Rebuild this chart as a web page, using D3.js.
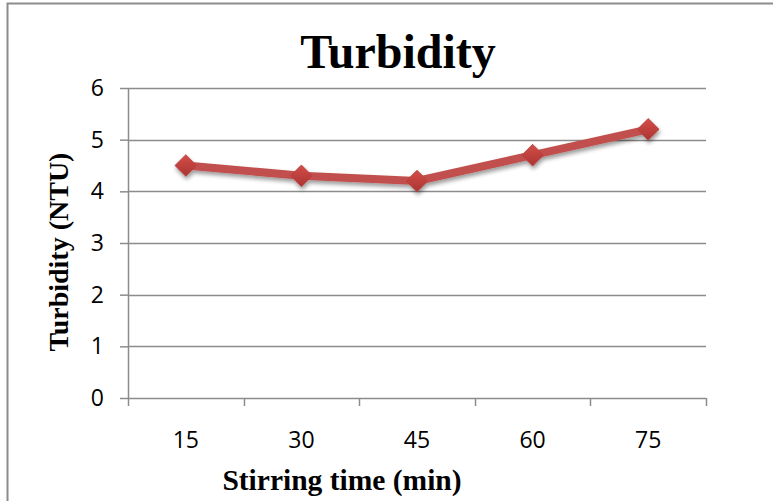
<!DOCTYPE html>
<html>
<head>
<meta charset="utf-8">
<script src="https://cdn.jsdelivr.net/npm/d3@7/dist/d3.min.js"></script>
<style>
  html, body { margin: 0; padding: 0; background: #fff; }
  svg { display: block; }
</style>
</head>
<body>
<svg id="chart" width="773" height="501"></svg>
<script>
// Turbidity readings at each stirring time
const stirringTimes = ["15", "30", "45", "60", "75"];
const turbidityNTU = [4.5, 4.3, 4.2, 4.7, 5.2];
const yTicks = [0, 1, 2, 3, 4, 5, 6];

const svg = d3.select("#chart");
const W = 773, H = 501;
const margin = { left: 128, top: 88, right: 67, bottom: 103 };
const plotW = W - margin.left - margin.right;
const plotH = H - margin.top - margin.bottom;

// Frame around the chart
svg.append("rect")
  .attr("x", 7.5).attr("y", 3.5)
  .attr("width", W + 10).attr("height", H + 10)
  .attr("fill", "#fff")
  .attr("stroke", "#8c8c8c").attr("stroke-width", 2);

const defs = svg.append("defs");
const shadow = defs.append("filter").attr("id", "shadow")
  .attr("x", "-50%").attr("y", "-50%").attr("width", "200%").attr("height", "200%");
shadow.append("feGaussianBlur").attr("in", "SourceAlpha").attr("stdDeviation", 2.2);
shadow.append("feOffset").attr("dx", 1).attr("dy", 3).attr("result", "off");
shadow.append("feComponentTransfer").append("feFuncA").attr("type", "linear").attr("slope", 0.4);
const merge = shadow.append("feMerge");
merge.append("feMergeNode");
merge.append("feMergeNode").attr("in", "SourceGraphic");

const grad = defs.append("linearGradient").attr("id", "diamondFill")
  .attr("x1", 0).attr("y1", 0).attr("x2", 0).attr("y2", 1);
grad.append("stop").attr("offset", "0%").attr("stop-color", "#d44c48");
grad.append("stop").attr("offset", "100%").attr("stop-color", "#aa3532");

const g = svg.append("g").attr("transform", `translate(${margin.left},${margin.top})`);

const x = d3.scaleBand().domain(stirringTimes).range([0, plotW]);
const y = d3.scaleLinear().domain([0, 6]).range([plotH, 0]);

const tickFont = "'Open Sans', 'Liberation Sans', sans-serif";
const titleFont = "'Liberation Serif', 'Times New Roman', serif";

// Horizontal gridlines
g.append("g")
  .selectAll("line")
  .data(yTicks.filter(t => t > 0))
  .join("line")
  .attr("x1", 0).attr("x2", plotW)
  .attr("y1", d => Math.round(y(d)) + 0.5).attr("y2", d => Math.round(y(d)) + 0.5)
  .attr("stroke", "#8c8c8c").attr("stroke-width", 1.5);

// Y axis
const yAxis = g.append("g")
  .call(d3.axisLeft(y).tickValues(yTicks).tickSize(8).tickPadding(16).tickFormat(d3.format("d")));
yAxis.selectAll("path, line").attr("stroke", "#8c8c8c").attr("stroke-width", 1.5);
yAxis.select(".domain").attr("d", `M0.5,${plotH}V0`);
yAxis.selectAll("text")
  .attr("font-family", tickFont)
  .attr("font-size", 23).attr("fill", "#000");

// X axis with ticks at category boundaries
const xAxisG = g.append("g").attr("transform", `translate(0,${plotH})`);
xAxisG.append("line")
  .attr("x1", 0).attr("x2", plotW).attr("y1", 0.5).attr("y2", 0.5)
  .attr("stroke", "#8c8c8c").attr("stroke-width", 1.5);
const boundaries = stirringTimes.map(d => x(d)).concat([plotW]);
xAxisG.selectAll("line.tick")
  .data(boundaries)
  .join("line")
  .attr("class", "tick")
  .attr("x1", d => Math.round(d) + 0.5).attr("x2", d => Math.round(d) + 0.5)
  .attr("y1", 0).attr("y2", 8)
  .attr("stroke", "#8c8c8c").attr("stroke-width", 1.5);
xAxisG.selectAll("text")
  .data(stirringTimes)
  .join("text")
  .attr("x", d => x(d) + x.bandwidth() / 2)
  .attr("y", 50)
  .attr("text-anchor", "middle")
  .attr("font-family", tickFont)
  .attr("font-size", 23).attr("fill", "#000")
  .text(d => d);

// Series line and diamond markers
const pts = stirringTimes.map((t, i) => ({ t, v: turbidityNTU[i] }));
const line = d3.line().x(d => x(d.t) + x.bandwidth() / 2).y(d => y(d.v));

const series = g.append("g").attr("filter", "url(#shadow)");
series.append("path")
  .datum(pts)
  .attr("d", line)
  .attr("fill", "none")
  .attr("stroke", "#c0504d")
  .attr("stroke-width", 8)
  .attr("stroke-linejoin", "round");

series.selectAll("path.marker")
  .data(pts)
  .join("path")
  .attr("class", "marker")
  .attr("d", d3.symbol().type(d3.symbolDiamond2).size(300))
  .attr("transform", d => `translate(${x(d.t) + x.bandwidth() / 2},${y(d.v)})`)
  .attr("fill", "url(#diamondFill)")
  .attr("stroke", "#b7403d").attr("stroke-width", 0.8);

// Titles
svg.append("text")
  .attr("x", 398).attr("y", 68)
  .attr("text-anchor", "middle")
  .attr("font-family", titleFont)
  .attr("font-weight", "bold").attr("font-size", 48)
  .text("Turbidity");

svg.append("text")
  .attr("x", 342).attr("y", 490)
  .attr("text-anchor", "middle")
  .attr("font-family", titleFont)
  .attr("font-weight", "bold").attr("font-size", 29.5)
  .text("Stirring time (min)");

svg.append("text")
  .attr("transform", "translate(68,252) rotate(-90)")
  .attr("text-anchor", "middle")
  .attr("font-family", titleFont)
  .attr("font-weight", "bold").attr("font-size", 28)
  .text("Turbidity (NTU)");
</script>
</body>
</html>
